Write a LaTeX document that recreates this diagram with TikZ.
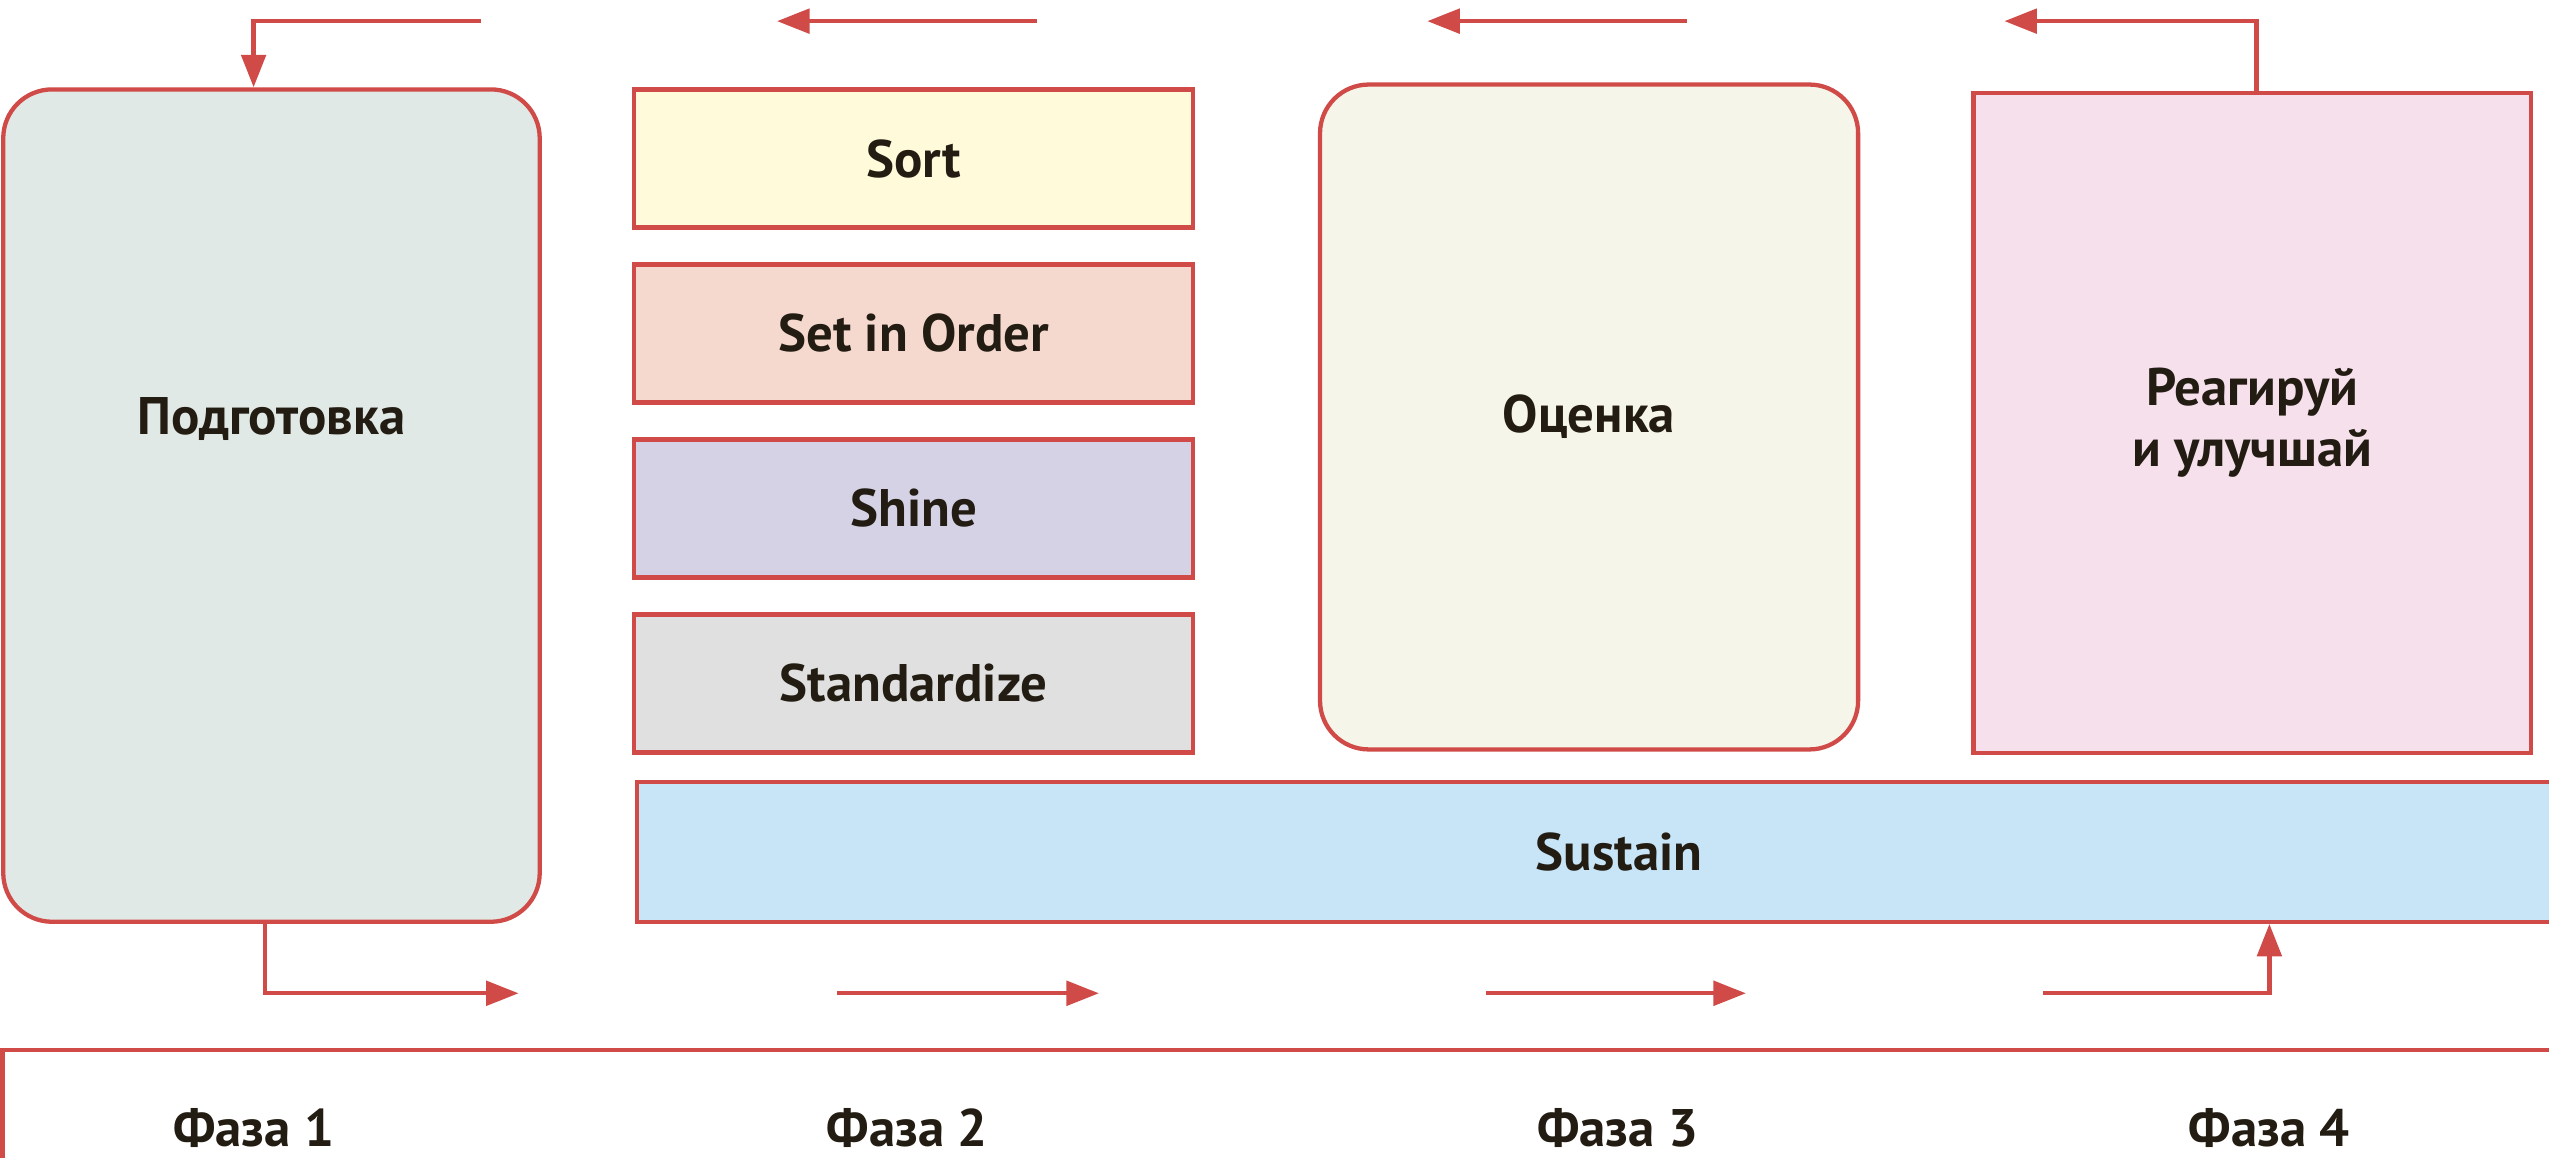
\documentclass[tikz,border=0pt]{standalone}
\usepackage{fontspec}
\setmainfont{PT Sans}
\usetikzlibrary{positioning, calc, arrows.meta}
\definecolor{Edge}{HTML}{D04B47}
\definecolor{Ink}{HTML}{221C12}
\definecolor{PrepFill}{HTML}{E1E9E6}
\definecolor{SortFill}{HTML}{FFFADA}
\definecolor{OrderFill}{HTML}{F5D9CE}
\definecolor{ShineFill}{HTML}{D5D2E6}
\definecolor{StdFill}{HTML}{E0E0E0}
\definecolor{EvalFill}{HTML}{F6F5EA}
\definecolor{ActFill}{HTML}{F5E0EC}
\definecolor{KeepFill}{HTML}{C8E4F7}
\tikzset{
    boxtext/.style={text=Ink, align=center, inner sep=0pt, font=\bfseries\fontsize{18.5}{21.5}\selectfont},
    stagebox/.style={boxtext, rectangle, draw=Edge, line width=1.5pt},
    roundbox/.style={stagebox, rounded corners=6mm},
    sbox/.style={stagebox, minimum width=68.8mm, minimum height=17mm},
    flow/.style={-{Triangle[length=4mm, width=3mm]}, line width=1.5pt, draw=Edge},
    phaselabel/.style={boxtext, anchor=base},
}

\begin{document}
\begin{tikzpicture}[x=0.2mm, y=-0.2mm]
    \useasboundingbox (0,0) rectangle (1568,712);

    % Phase 1 (title sits in the upper half of the box)
    \node[roundbox, fill=PrepFill, minimum width=66mm, minimum height=102.4mm] (prep) at (167,311) {};
    \node[boxtext] (prepname) at (167,258) {Подготовка};

    % Phase 2: the four S boxes, one under the other
    \node[sbox, fill=SortFill] (sort) at (562,97.5) {Sort};
    \node[sbox, fill=OrderFill, below=4mm of sort] (order) {Set in Order};
    \node[sbox, fill=ShineFill, below=4mm of order] (shine) {Shine};
    \node[sbox, fill=StdFill, below=4mm of shine] (standard) {Standardize};

    % Phase 3 and 4
    \node[roundbox, fill=EvalFill, minimum width=66.2mm, minimum height=81.8mm] (eval) at (977.5,256.5) {Оценка};
    \node[stagebox, fill=ActFill, minimum width=68.6mm, minimum height=81.2mm] (act) at (1385.5,260) {Реагируй\\и улучшай};

    % Sustain runs off the right side
    \node[stagebox, fill=KeepFill, minimum width=241.6mm, minimum height=17.2mm] (keep) at (996,524) {Sustain};

    % Return arrows along the top
    \coordinate (t1s) at (296,13);  \coordinate (t1) at (156,13);
    \coordinate (t2s) at (638,13);  \coordinate (t2) at (478,13);
    \coordinate (t3s) at (1038,13); \coordinate (t3) at (878,13);
    \coordinate (t4) at (1388,13);  \coordinate (t4e) at (1233,13);
    \draw[flow] (t1s) -- (t1) -- (t1 |- prep.north);
    \draw[flow] (t2s) -- (t2);
    \draw[flow] (t3s) -- (t3);
    \draw[flow] (t4 |- act.north) -- (t4) -- (t4e);

    % Forward arrows along the bottom
    \coordinate (b1) at (163,611);  \coordinate (b1e) at (319,611);
    \coordinate (b2s) at (515,611); \coordinate (b2) at (676,611);
    \coordinate (b3s) at (914,611); \coordinate (b3) at (1074,611);
    \coordinate (b4s) at (1257,611); \coordinate (b4) at (1396,611);
    \draw[flow] (b1 |- prep.south) -- (b1) -- (b1e);
    \draw[flow] (b2s) -- (b2);
    \draw[flow] (b3s) -- (b3);
    \draw[flow] (b4s) -- (b4) -- (b4 |- keep.south);

    % Phase strip
    \draw[Edge, line width=1.5pt] (1.5,740) -- (1.5,646) -- (1600,646);
    \foreach \n/\x in {1/156, 2/558, 3/995, 4/1396}
        \node[phaselabel] (phase\n) at (\x,705) {Фаза \n};
\end{tikzpicture}
\end{document}
